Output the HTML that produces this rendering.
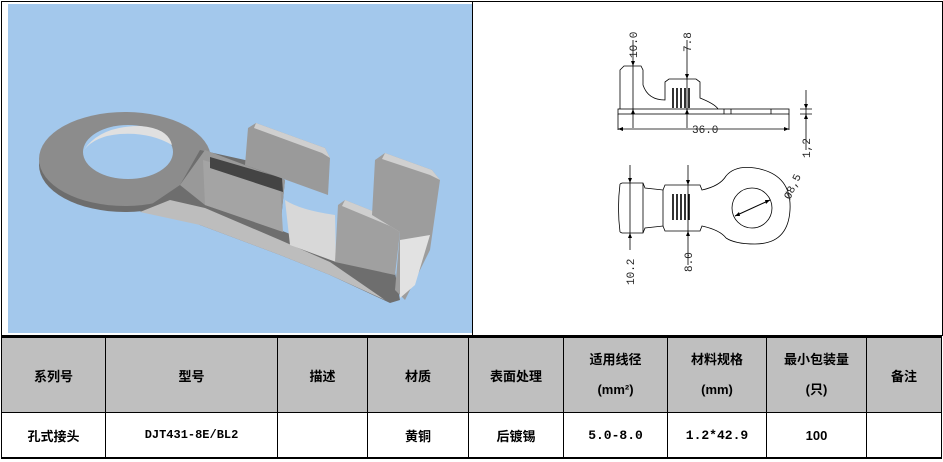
<!DOCTYPE html>
<html><head><meta charset="utf-8"><style>
body{margin:0;width:943px;height:462px;background:#fff;overflow:hidden;position:relative;font-family:"Liberation Sans","Noto Sans CJK SC",sans-serif;}
.abs{position:absolute}
table{position:absolute;left:1px;top:335px;width:941px;border-collapse:collapse;table-layout:fixed}
td{border:1px solid #000;text-align:center;font-weight:bold;font-size:13px;font-family:"Liberation Sans","Noto Sans CJK SC",sans-serif;padding:0;overflow:hidden}
tr.h td{background:#bfbfbf;height:74px;border-top:3px solid #000}
tr.d td{height:44px;background:#fff;border-bottom:2px solid #000}
</style></head><body>
<div class="abs" style="left:1px;top:1px;width:940px;height:334px;border:1px solid #000;border-bottom:none"></div>
<div class="abs" style="left:472px;top:1px;width:1px;height:334px;background:#000"></div>
<svg class="abs" style="left:8px;top:4px" width="464" height="329" viewBox="8 4 464 329">
<rect x="8" y="4" width="464" height="329" fill="#a3c8ec"/>
<ellipse cx="125" cy="165" rx="86" ry="47" fill="#6d6d6d"/>
<ellipse cx="125" cy="159" rx="86" ry="47" fill="#8c8c8c"/>
<ellipse cx="128" cy="152" rx="45" ry="27" fill="#a3c8ec"/>
<path d="M84 150 Q100 126 140 126 Q168 128 172 145 Q150 132 120 134 Q95 136 84 150Z" fill="#e0e0e0"/>
<path d="M200 150 L245 160 L285 180 L280 230 L350 258 L390 245 L400 300 L390 303 L330 275 L280 255 L200 225 L170 210 L140 212 L180 185Z" fill="#6e6e6e"/>
<path d="M180 185 L205 150 L285 180 L280 230 L205 205Z" fill="#999"/>
<path d="M203 160 L280 183 L283 232 L205 205Z" fill="#a4a4a4"/>
<path d="M210 157 L282 178 L283 192 L210 168Z" fill="#444"/>
<path d="M140 212 L200 225 L280 255 L330 275 L385 300 L330 262 L280 240 L205 208 L170 200Z" fill="#bdbdbd"/>
<path d="M248 128 L256 123 L325 148 L330 158 L328 195 L245 165Z" fill="#9a9a9a"/>
<path d="M256 123 L325 148 L330 158 L322 153 L254 128Z" fill="#cfcfcf"/>
<path d="M285 200 Q300 210 335 215 L336 262 L290 245 Z" fill="#d8d8d8"/>
<path d="M338 205 L345 200 L395 220 L400 232 L395 275 L335 262Z" fill="#a0a0a0"/>
<path d="M345 200 L395 220 L400 232 L390 226 L342 206Z" fill="#cfcfcf"/>
<path d="M375 160 L385 153 L432 170 L440 180 L430 250 L405 300 L395 290 L400 232 L372 215Z" fill="#9d9d9d"/>
<path d="M385 153 L432 170 L440 180 L430 175 L382 159Z" fill="#d0d0d0"/>
<path d="M400 240 L430 235 L415 285 L400 298Z" fill="#e2e2e2"/>
</svg>
<svg class="abs" style="left:0;top:0" width="943" height="335">
<g stroke="#000" stroke-width="0.8" fill="none">
<rect x="618" y="109" width="171" height="5"/>
<path d="M620 109 L620 70 L624 66 L641 66 L643 70 L643 85 Q648 100 665 100 L665 82 L669 79 L696 79 L700 82 L700 98 Q715 104 718 109"/>
<path d="M673 88 v20 M677 88 v20 M681 88 v20 M685 88 v20 M689 88 v20" stroke-width="1.6"/>
<path d="M724 109 v5 M731 109 v5 M771 109 v5"/>
<path d="M618 114 v16 M789 114 v16 M618 129 H789"/>
<path d="M633 40 V128 M687 40 V128"/>
<path d="M806 90 V150 M800 109 h12 M800 114 h12"/>
<path d="M620 184 L622 183 L643 183 L645 188 L663 190 L665 185 L700 185 L702 190 Q720 186 726 176 M620 232 L622 233 L643 233 L645 228 L663 226 L665 231 L700 231 L702 226 Q720 230 726 238 M620 184 Q617 208 620 232"/>
<path d="M643 183 L643 233 M663 190 V226"/>
<path d="M673 194 v26 M677 194 v26 M681 194 v26 M685 194 v26 M689 194 v26" stroke-width="1.6"/>
<path d="M726 176 Q735 165 755 168 Q792 174 790 210 Q788 244 755 244 Q735 244 726 238"/>
<circle cx="752" cy="208" r="20"/>
<path d="M735 216 L770 200" stroke-width="1"/>
<path d="M630 165 V250 M688 165 V265"/>
</g>
<g fill="#000">
<path d="M633 66 l-2 -5 h4z M633 109 l-2 5 h4z M687 79 l-2 -5 h4z M687 109 l-2 5 h4z M618 129 l5 -2 v4z M789 129 l-5 -2 v4z M806 109 l-2 -5 h4z M806 114 l-2 5 h4z M630 183 l-2 -5 h4z M630 233 l-2 5 h4z M688 185 l-2 -5 h4z M688 231 l-2 5 h4z M735 216 l4 -4 l1 4z M770 200 l-4 4 l-1 -4z"/>
</g>
<g font-family="Liberation Mono,monospace" font-size="11" fill="#222">
<text x="692" y="133">36.0</text>
<text transform="translate(637,58) rotate(-90)">10.0</text>
<text transform="translate(691,52) rotate(-90)">7.8</text>
<text transform="translate(810,158) rotate(-90)">1,2</text>
<text transform="translate(634,285) rotate(-90)">10.2</text>
<text transform="translate(692,272) rotate(-90)">8.0</text>
<text transform="translate(790,200) rotate(-65)">Ø8,5</text>
</g>
</svg>
<table>
<colgroup><col style="width:104px"><col style="width:172px"><col style="width:90px"><col style="width:101px"><col style="width:95px"><col style="width:104px"><col style="width:99px"><col style="width:100px"><col></colgroup>
<tr class="h"><td>系列号</td><td>型号</td><td style="vertical-align:top;padding-top:28px;height:46px">描述</td><td>材质</td><td>表面处理</td><td style="line-height:30px">适用线径<br>(mm²)</td><td style="line-height:30px">材料规格<br>(mm)</td><td style="line-height:30px">最小包装量<br>(只)</td><td>备注</td></tr>
<tr class="d"><td>孔式接头</td><td style="font-family:'Liberation Mono',monospace;font-size:12px">DJT431-8E/BL2</td><td></td><td>黄铜</td><td>后镀锡</td><td style="font-family:'Liberation Mono',monospace">5.0-8.0</td><td style="font-family:'Liberation Mono',monospace">1.2*42.9</td><td>100</td><td></td></tr>
</table>
</body></html>
